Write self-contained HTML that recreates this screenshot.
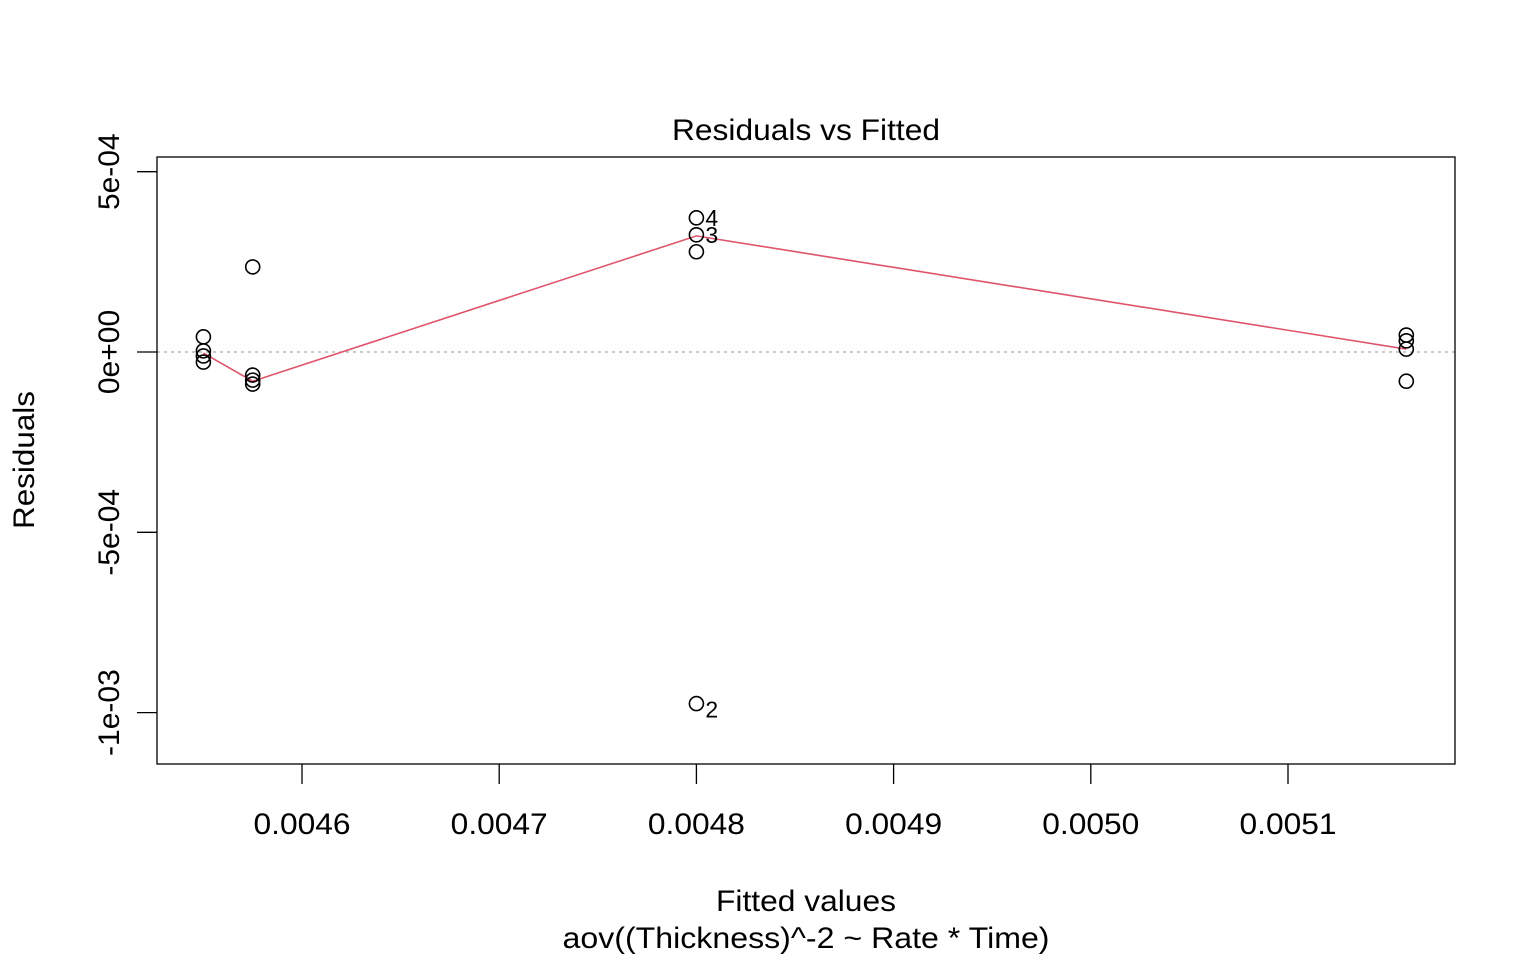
<!DOCTYPE html>
<html><head><meta charset="utf-8"><style>
html,body{margin:0;padding:0;background:#fff;}
svg text{font-family:"Liberation Sans",Arial,sans-serif;fill:#000;}
</style></head><body>
<svg id="chart" width="1536" height="960" xmlns="http://www.w3.org/2000/svg"></svg>
<script>
const fittedValues = [0.00455,0.00455,0.00455,0.00455, 0.004575,0.004575,0.004575,0.004575, 0.0048,0.0048,0.0048,0.0048, 0.00516,0.00516,0.00516,0.00516];
const residualValues = [4.2e-5,0.3e-5,-1.1e-5,-2.8e-5, 23.6e-5,-6.4e-5,-7.8e-5,-8.9e-5, 37.2e-5,32.5e-5,27.8e-5,-97.5e-5, 4.7e-5,3.1e-5,0.8e-5,-8.1e-5];
const pointLabels = ["","","","", "","","","", "4","3","","2", "","","",""];
const smoothX = [0.00455,0.004575,0.0048,0.00516];
const smoothY = [-0.3e-5,-8.1e-5,32.2e-5,0.8e-5];
const xTicks = [0.0046,0.0047,0.0048,0.0049,0.0050,0.0051];
const xTickLabels = ["0.0046","0.0047","0.0048","0.0049","0.0050","0.0051"];
const yTicks = [5e-4,0,-5e-4,-1e-3];
const yTickLabels = ["5e-04","0e+00","-5e-04","-1e-03"];

const NS="http://www.w3.org/2000/svg";
const svg=document.getElementById('chart');
const L=157,R=1455,T=157,B=764;
function xs(v){return 302+(v-0.0046)/0.0001*197.2;}
function ys(v){return 352-v/5e-4*180.3;}
function mk(tag,attrs,txt){const e=document.createElementNS(NS,tag);for(const k in attrs)e.setAttribute(k,attrs[k]);if(txt!==undefined)e.textContent=txt;svg.appendChild(e);return e;}

let e;
e=mk('line',{x1:L,x2:R,y1:ys(0),y2:ys(0),stroke:'#aaa','stroke-width':1.3,'stroke-dasharray':'3,4'});



e=mk('rect',{x:L,y:T,width:R-L,height:B-T,fill:'none',stroke:'#000','stroke-width':1.3});



xTicks.forEach((t,i)=>{
  const x=xs(t);
  let l=mk('line',{x1:x,x2:x,y1:B,y2:B+20,stroke:'#000','stroke-width':1.3});
  
  
  let tx=mk('text',{x:x,y:834,'font-size':30,'text-anchor':'middle',textLength:97,lengthAdjust:'spacingAndGlyphs'},xTickLabels[i]);
  
  
});
yTicks.forEach((t,i)=>{
  const y=ys(t);
  let l=mk('line',{x1:L-20,x2:L,y1:y,y2:y,stroke:'#000','stroke-width':1.3});
  
  
  let tx=mk('text',{x:0,y:0,'font-size':30,'text-anchor':'middle',transform:`translate(119,${y}) rotate(-90)`},yTickLabels[i]);
  
  
});

const pts=smoothX.map((v,i)=>xs(v)+','+ys(smoothY[i])).join(' ');
e=mk('polyline',{points:pts,fill:'none',stroke:'#DF536B','stroke-width':1.6});



fittedValues.forEach((f,i)=>{
  let c=mk('circle',{cx:xs(f),cy:ys(residualValues[i]),r:7,fill:'none',stroke:'#000','stroke-width':1.6});
  
  
  if(pointLabels[i]){
    let tx=mk('text',{x:xs(f)+9,y:ys(residualValues[i])+(residualValues[i]<0?14:8),'font-size':23},pointLabels[i]);
    
    
  }
});

e=mk('text',{x:806,y:140,'font-size':30,'text-anchor':'middle',textLength:268,lengthAdjust:'spacingAndGlyphs'},'Residuals vs Fitted');


e=mk('text',{x:806,y:911,'font-size':30,'text-anchor':'middle',textLength:180,lengthAdjust:'spacingAndGlyphs'},'Fitted values');


e=mk('text',{x:806,y:948,'font-size':30,'text-anchor':'middle',textLength:487,lengthAdjust:'spacingAndGlyphs'},'aov((Thickness)^-2 ~ Rate * Time)');


e=mk('text',{x:0,y:0,'font-size':30,'text-anchor':'middle',transform:'translate(34,460) rotate(-90)',textLength:138,lengthAdjust:'spacingAndGlyphs'},'Residuals');


</script>
</body></html>
